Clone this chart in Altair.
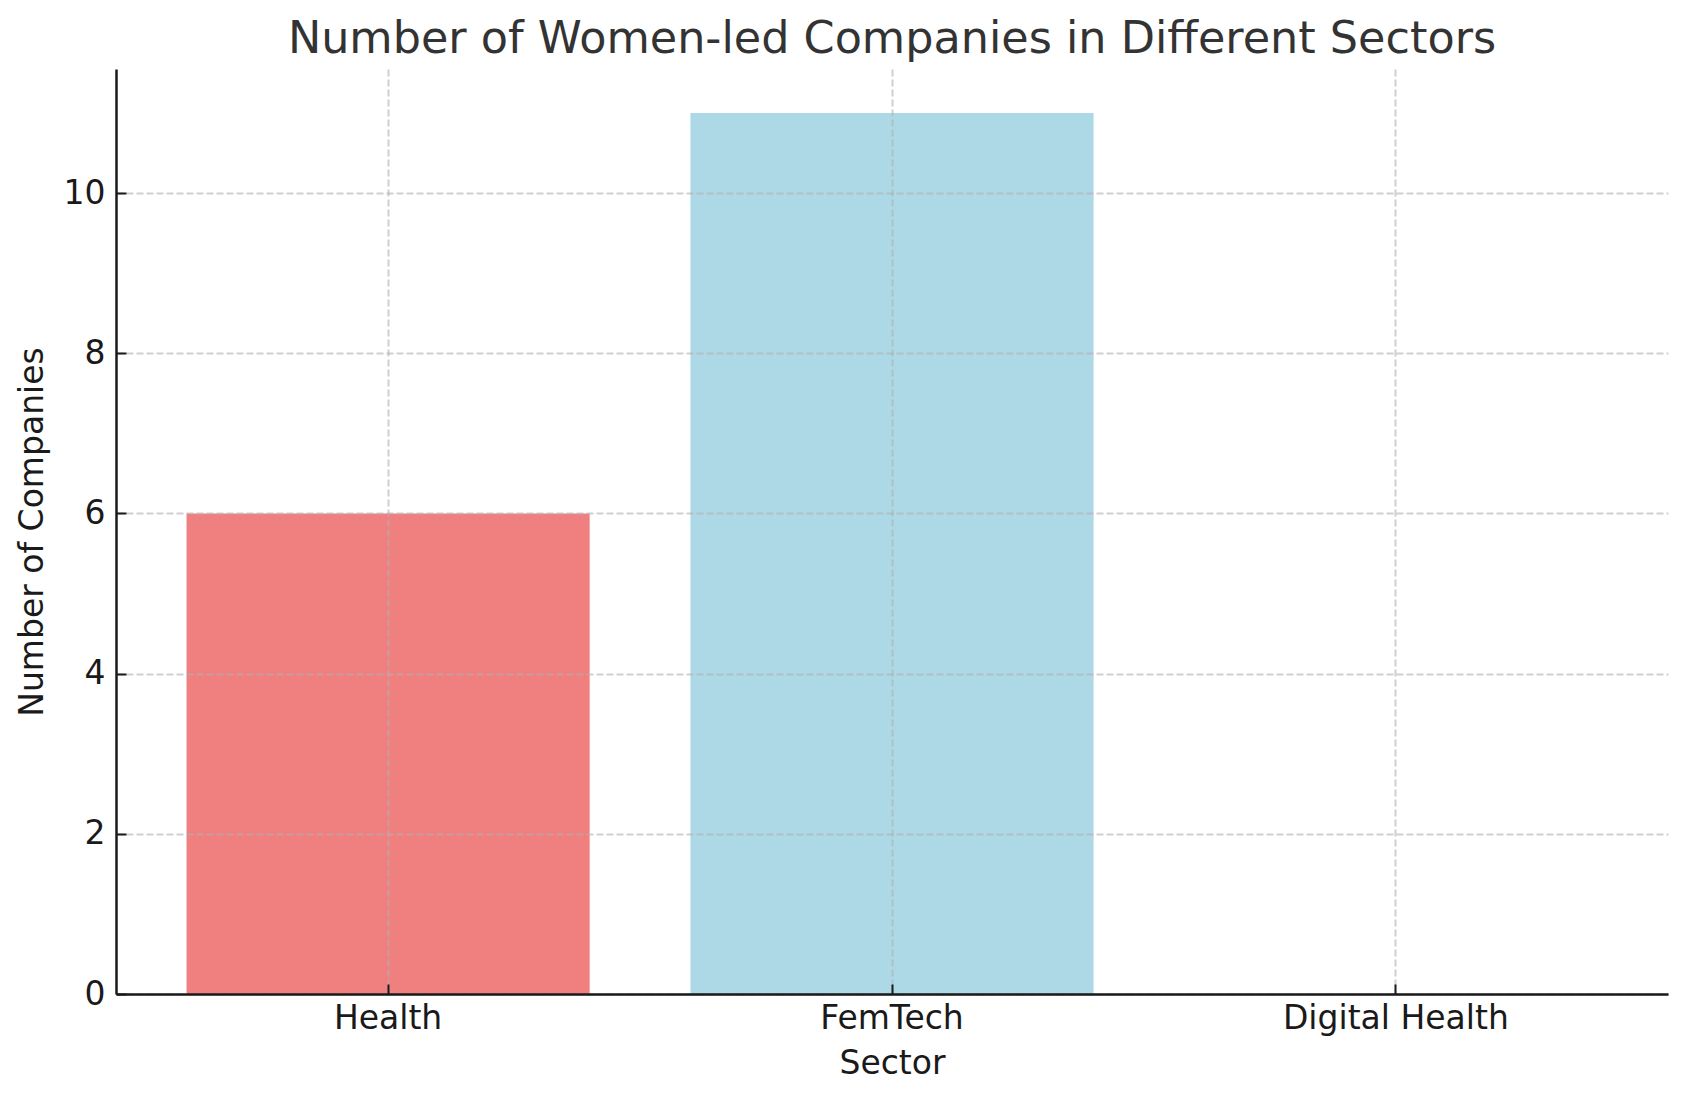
import altair as alt
import pandas as pd

sectors = ["Health", "FemTech", "Digital Health"]
counts = [6, 11, 0]
colors = ["#F08080", "#ADD8E6", "#90EE90"]

df = pd.DataFrame({"sector": sectors, "count": counts})

FONT = "DejaVu Sans"

x_scale = alt.Scale(domain=sectors, paddingInner=0.2, paddingOuter=0.14)
y_scale = alt.Scale(domain=[0, 11.55], nice=False, zero=True)
color_scale = alt.Scale(domain=sectors, range=colors)

main_x = alt.Axis(
    title="Sector", orient="bottom", labelAngle=0, bandPosition=0.5,
    grid=True, gridColor="#b0b0b0", gridOpacity=0.6, gridDash=[7, 3], gridWidth=2,
    ticks=False, labelPadding=8, labelFontSize=33, titleFontSize=33, labelLimit=0,
    labelFont=FONT, titleFont=FONT, labelColor="#1a1a1a", titleColor="#1a1a1a",
    titleFontWeight="normal", titlePadding=12,
    domainColor="#1a1a1a", domainWidth=2.5, zindex=2,
)
main_y = alt.Axis(
    title="Number of Companies", orient="left", values=[0, 2, 4, 6, 8, 10],
    grid=True, gridColor="#b0b0b0", gridOpacity=0.6, gridDash=[7, 3], gridWidth=2,
    ticks=False, labelPadding=11, labelFontSize=33, titleFontSize=33,
    labelFont=FONT, titleFont=FONT, labelColor="#1a1a1a", titleColor="#1a1a1a",
    titleFontWeight="normal", titlePadding=14,
    domainColor="#1a1a1a", domainWidth=2.5, zindex=2,
)
tick_x = alt.Axis(
    title=None, orient="bottom", bandPosition=0.5, labels=False, domain=False,
    grid=False, ticks=True, tickSize=10, tickWidth=2, tickColor="#1a1a1a",
    offset=-10, zindex=3,
)
tick_y = alt.Axis(
    title=None, orient="left", values=[0, 2, 4, 6, 8, 10], labels=False,
    domain=False, grid=False, ticks=True, tickSize=10, tickWidth=2,
    tickColor="#1a1a1a", offset=-10, zindex=3,
)

bars = alt.Chart(df).mark_bar().encode(
    x=alt.X("sector:N", sort=sectors, scale=x_scale, axis=main_x),
    y=alt.Y("count:Q", scale=y_scale, axis=main_y),
    color=alt.Color("sector:N", scale=color_scale, legend=None),
)
ticks = alt.Chart(df).mark_bar(opacity=0).encode(
    x=alt.X("sector:N", sort=sectors, scale=x_scale, axis=tick_x),
    y=alt.Y("count:Q", scale=y_scale, axis=tick_y),
)

chart = (
    alt.layer(bars, ticks)
    .resolve_axis(x="independent", y="independent")
    .properties(
        width=1552,
        height=925,
        autosize=alt.AutoSizeParams(type="none"),
        padding={"left": 108, "top": 61, "right": 10, "bottom": 99},
        background="white",
        title=alt.Title(
            "Number of Women-led Companies in Different Sectors",
            fontSize=44.5, font=FONT, fontWeight="normal", color="#333333",
            anchor="middle", baseline="alphabetic", offset=-28,
        ),
    )
    .configure_view(stroke=None, strokeWidth=0)
)

chart.save("out.html", embed_options={"renderer": "svg", "actions": False})
